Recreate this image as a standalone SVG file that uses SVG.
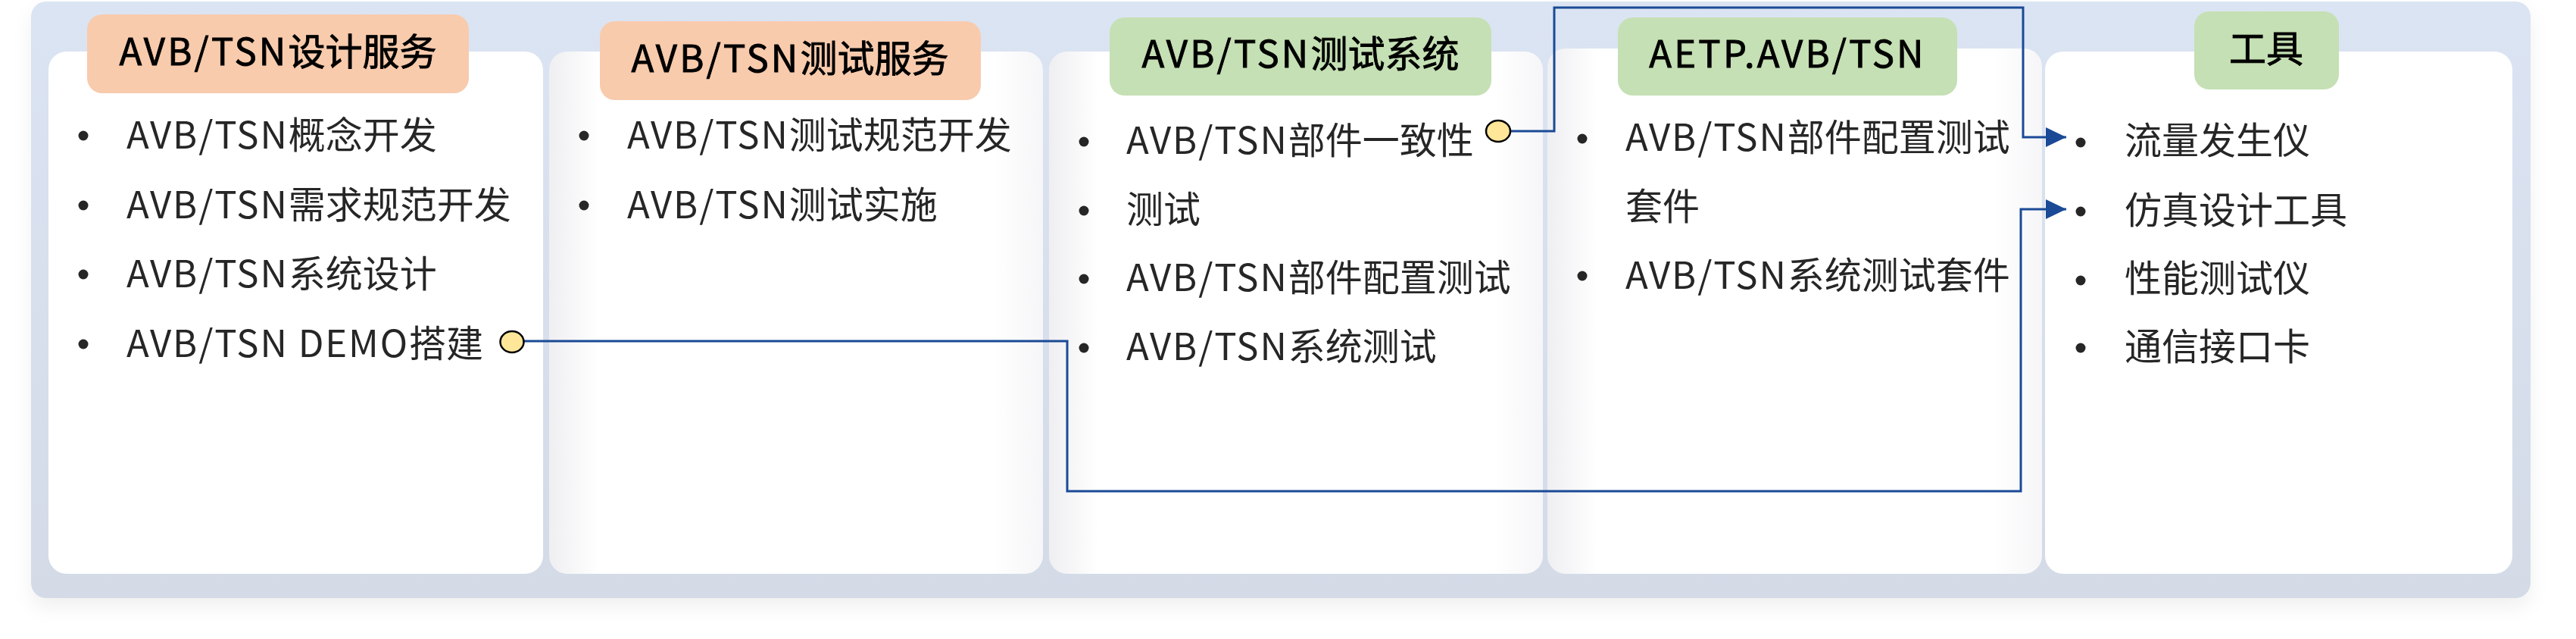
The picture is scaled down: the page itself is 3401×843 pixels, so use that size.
<svg xmlns="http://www.w3.org/2000/svg" width="3401" height="843" viewBox="0 0 3401 843">
  <defs>
    <style>
      .panel { fill: url(#panelGrad); }
      .card { fill: url(#cardGrad); }
      .card1 { fill: #ffffff; }
      .tagPeach { fill: #f8cbad; }
      .tagGreen { fill: #c5e0b4; }
      .tagText { font-family: "Noto Sans CJK SC", "Noto Sans", sans-serif; font-size: 49px; font-weight: 400; fill: #000000; stroke: #000000; stroke-width: 0.9; text-anchor: middle; }
      .item { font-family: "Noto Sans CJK SC", "Noto Sans", sans-serif; font-size: 49px; font-weight: 400; fill: #262626; }
      .lt { letter-spacing: 1.9px; }
      .lh { letter-spacing: 3.2px; }
      .dot { fill: #262626; }
      .pin { fill: #ffe699; stroke: #000000; stroke-width: 2.5; }
      .conn { fill: none; stroke: #1a4a96; stroke-width: 3; }
    </style>
    <linearGradient id="panelGrad" x1="0" y1="0" x2="0" y2="1">
      <stop offset="0" stop-color="#dbe4f3"/>
      <stop offset="1" stop-color="#d4dbe7"/>
    </linearGradient>
    <linearGradient id="cardGrad" x1="0" y1="0" x2="1" y2="0">
      <stop offset="0" stop-color="#efeff2"/>
      <stop offset="0.1" stop-color="#ffffff"/>
      <stop offset="0.9" stop-color="#ffffff"/>
      <stop offset="1" stop-color="#f6f6f8"/>
    </linearGradient>
    <filter id="shadow" x="-5%" y="-10%" width="110%" height="125%">
      <feDropShadow dx="0" dy="12" stdDeviation="12" flood-color="#000000" flood-opacity="0.06"/>
    </filter>
    <marker id="arrow" markerUnits="userSpaceOnUse" markerWidth="28" markerHeight="28" refX="27" refY="13" orient="auto">
      <path d="M0,0 L27,13 L0,26 Z" fill="#1a4a96"/>
    </marker>
  </defs>

  <rect id="panel" class="panel" x="41" y="2" width="3300" height="787" rx="20" filter="url(#shadow)"/>

  <g id="node-design">
    <rect class="card1" x="64" y="68" width="653" height="689" rx="24"/>
    <rect class="tagPeach" x="115" y="19" width="504" height="104" rx="20"/>
    <text class="tagText" x="367" y="86"><tspan class="lh">AVB/TSN</tspan>设计服务</text>
    <circle class="dot" cx="110" cy="179" r="6.5"/>
    <text class="item" x="167" y="196"><tspan class="lt">AVB/TSN</tspan>概念开发</text>
    <circle class="dot" cx="110" cy="271" r="6.5"/>
    <text class="item" x="167" y="288"><tspan class="lt">AVB/TSN</tspan>需求规范开发</text>
    <circle class="dot" cx="110" cy="362" r="6.5"/>
    <text class="item" x="167" y="379"><tspan class="lt">AVB/TSN</tspan>系统设计</text>
    <circle class="dot" cx="110" cy="454" r="6.5"/>
    <text class="item" x="167" y="471"><tspan class="lt">AVB/TSN DEMO</tspan>搭建</text>
  </g>

  <g id="node-test-service">
    <rect class="card" x="725" y="68" width="652" height="689" rx="24"/>
    <rect class="tagPeach" x="792" y="28" width="503" height="104" rx="20"/>
    <text class="tagText" x="1043" y="95"><tspan class="lh">AVB/TSN</tspan>测试服务</text>
    <circle class="dot" cx="771" cy="179" r="6.5"/>
    <text class="item" x="828" y="196"><tspan class="lt">AVB/TSN</tspan>测试规范开发</text>
    <circle class="dot" cx="771" cy="271" r="6.5"/>
    <text class="item" x="828" y="288"><tspan class="lt">AVB/TSN</tspan>测试实施</text>
  </g>

  <g id="node-test-system">
    <rect class="card" x="1385" y="68" width="652" height="689" rx="24"/>
    <rect class="tagGreen" x="1465" y="23" width="504" height="103" rx="20"/>
    <text class="tagText" x="1717" y="89"><tspan class="lh">AVB/TSN</tspan>测试系统</text>
    <circle class="dot" cx="1431" cy="187" r="6.5"/>
    <text class="item" x="1487" y="203"><tspan class="lt">AVB/TSN</tspan>部件一致性</text>
    <circle class="dot" cx="1431" cy="278" r="6.5"/>
    <text class="item" x="1487" y="294">测试</text>
    <circle class="dot" cx="1431" cy="368" r="6.5"/>
    <text class="item" x="1487" y="384"><tspan class="lt">AVB/TSN</tspan>部件配置测试</text>
    <circle class="dot" cx="1431" cy="459" r="6.5"/>
    <text class="item" x="1487" y="475"><tspan class="lt">AVB/TSN</tspan>系统测试</text>
  </g>

  <g id="node-aetp">
    <rect class="card" x="2043" y="64" width="653" height="693" rx="24"/>
    <rect class="tagGreen" x="2136" y="23" width="448" height="103" rx="20"/>
    <text class="tagText lh" x="2360" y="89">AETP.AVB/TSN</text>
    <circle class="dot" cx="2089" cy="183" r="6.5"/>
    <text class="item" x="2146" y="199"><tspan class="lt">AVB/TSN</tspan>部件配置测试</text>
    <text class="item" x="2146" y="290">套件</text>
    <circle class="dot" cx="2089" cy="364" r="6.5"/>
    <text class="item" x="2146" y="381"><tspan class="lt">AVB/TSN</tspan>系统测试套件</text>
  </g>

  <g id="node-tools">
    <rect class="card1" x="2700" y="68" width="617" height="689" rx="24"/>
    <rect class="tagGreen" x="2897" y="15" width="191" height="103" rx="20"/>
    <text class="tagText" x="2992" y="82">工具</text>
    <circle class="dot" cx="2747" cy="188" r="6.5"/>
    <text class="item" x="2805" y="203">流量发生仪</text>
    <circle class="dot" cx="2747" cy="279" r="6.5"/>
    <text class="item" x="2805" y="295">仿真设计工具</text>
    <circle class="dot" cx="2747" cy="370" r="6.5"/>
    <text class="item" x="2805" y="385">性能测试仪</text>
    <circle class="dot" cx="2747" cy="459" r="6.5"/>
    <text class="item" x="2805" y="475">通信接口卡</text>
  </g>

  <g id="connectors">
    <path class="conn" d="M1994,173 H2052 V10 H2671 V181 H2728" marker-end="url(#arrow)"/>
    <path class="conn" d="M692,450 H1409 V648 H2668 V276 H2728" marker-end="url(#arrow)"/>
    <ellipse class="pin" cx="1978" cy="173" rx="16" ry="14"/>
    <ellipse class="pin" cx="676" cy="451" rx="15.5" ry="14"/>
  </g>
</svg>
